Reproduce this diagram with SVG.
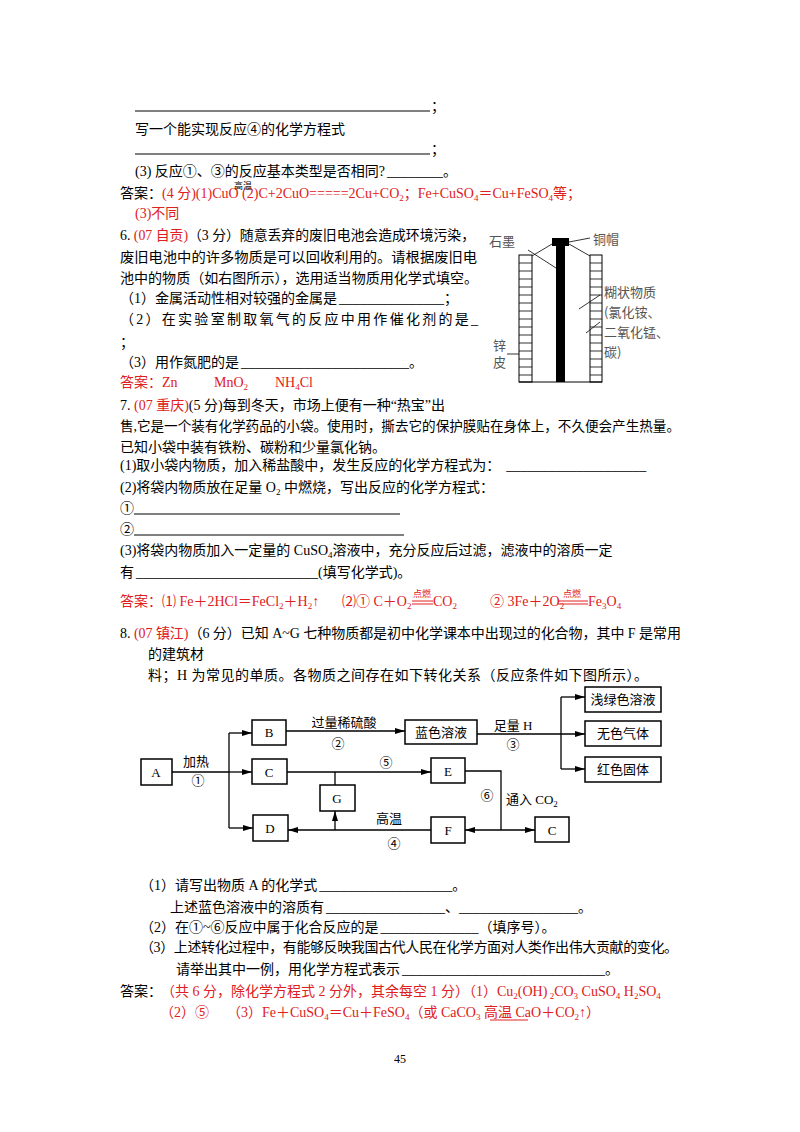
<svg xmlns="http://www.w3.org/2000/svg" width="800" height="1132" viewBox="0 0 800 1132">
<style>
text{font-family:"Liberation Serif","Noto Sans CJK SC",serif;font-size:14px;fill:#000}
.r{fill:#e02020}
.s{font-size:9px}
.g{font-family:"Noto Sans CJK SC",sans-serif;font-size:13px;fill:#555}
.d{font-size:13px}
.u{stroke:#000;stroke-width:1}
.ru{stroke:#e02020;stroke-width:1}
.box{fill:#fff;stroke:#000;stroke-width:1.5}
.ln{fill:none;stroke:#000;stroke-width:1.3}
</style>
<defs><marker id="ar" markerWidth="10" markerHeight="6" refX="10" refY="3" orient="auto" markerUnits="userSpaceOnUse"><path d="M0,0L10,3L0,6z" fill="#000"/></marker></defs>
<rect width="800" height="1132" fill="#fff"/>
<line class="u" x1="135" y1="111" x2="430" y2="111"/><text x="431" y="111">；</text>
<text x="135" y="134">写一个能实现反应④的化学方程式</text>
<line class="u" x1="135" y1="154" x2="430" y2="154"/><text x="431" y="154">；</text>
<text x="135" y="176">(3) 反应①、③的反应基本类型是否相同?<tspan dx="2">________</tspan>。</text>
<text x="120" y="198">答案：<tspan class="r">(4 分)(1)CuO  (2)C+2CuO=====2Cu+CO<tspan class="s" dy="3">2</tspan><tspan dy="-3">；Fe+CuSO</tspan><tspan class="s" dy="3">4</tspan><tspan dy="-3">＝Cu+FeSO</tspan><tspan class="s" dy="3">4</tspan><tspan dy="-3">等；</tspan></tspan></text>
<text x="234" y="189" class="s">高温</text>
<text x="135" y="218" class="r">(3)不同</text>
<text x="120" y="240" textLength="355" lengthAdjust="spacingAndGlyphs">6. <tspan class="r">(07 自贡)</tspan>（3 分）随意丢弃的废旧电池会造成环境污染，</text>
<text x="120" y="262" textLength="357" lengthAdjust="spacingAndGlyphs">废旧电池中的许多物质是可以回收利用的。请根据废旧电</text>
<text x="120" y="283" textLength="358" lengthAdjust="spacingAndGlyphs">池中的物质（如右图所示），选用适当物质用化学式填空。</text>
<text x="120" y="303">（1）金属活动性相对较强的金属是<tspan dx="2">_______________</tspan>；</text>
<text x="120" y="324" textLength="358" lengthAdjust="spacing">（2）在实验室制取氧气的反应中用作催化剂的是_</text>
<text x="120" y="347">；</text>
<text x="120" y="367">（3）用作氮肥的是<tspan dx="2">________________________</tspan>。</text>
<text x="120" y="387" class="r">答案：Zn<tspan x="214">MnO</tspan><tspan class="s" dy="3">2</tspan><tspan x="275" dy="-3">NH</tspan><tspan class="s" dy="3">4</tspan><tspan dy="-3">Cl</tspan></text>
<g id="battery">
<rect x="519" y="255" width="13" height="127" fill="#fff" stroke="#000"/>
<rect x="590" y="255" width="12" height="127" fill="#fff" stroke="#000"/>
<path d="M519 263h13M519 271h13M519 279h13M519 287h13M519 295h13M519 303h13M519 311h13M519 319h13M519 327h13M519 335h13M519 343h13M519 351h13M519 359h13M519 367h13M519 375h13M590 263h12M590 271h12M590 279h12M590 287h12M590 295h12M590 303h12M590 311h12M590 319h12M590 327h12M590 335h12M590 343h12M590 351h12M590 359h12M590 367h12M590 375h12" stroke="#000" stroke-width="0.8"/>
<line x1="519" y1="382" x2="602" y2="382" stroke="#000"/>
<rect x="556" y="245" width="9" height="137" fill="#000"/>
<rect x="552" y="238" width="17" height="8" fill="#000"/>
<path d="M532 256L552 244M590 256L569 244M528 250L556 268M569 242L590 238M579 309L600 295M586 333L600 322M507 354L519 354" stroke="#000" stroke-width="0.8" fill="none"/>
<text class="g" x="489" y="246">石墨</text>
<text class="g" x="593" y="244">铜帽</text>
<text class="g" x="604" y="297">糊状物质</text>
<text class="g" x="604" y="317">(氯化铵、</text>
<text class="g" x="604" y="337">二氧化锰、</text>
<text class="g" x="604" y="357">碳)</text>
<text class="g" x="493" y="350">锌</text>
<text class="g" x="493" y="367">皮</text>
</g>
<text x="120" y="410">7. <tspan class="r">(07 重庆)</tspan>(5 分)每到冬天，市场上便有一种“热宝”出</text>
<text x="120" y="431" textLength="560" lengthAdjust="spacingAndGlyphs">售,它是一个装有化学药品的小袋。使用时，撕去它的保护膜贴在身体上，不久便会产生热量。</text>
<text x="120" y="452">已知小袋中装有铁粉、碳粉和少量氯化钠。</text>
<text x="120" y="470">(1)取小袋内物质，加入稀盐酸中，发生反应的化学方程式为：<tspan dx="6">____________________</tspan></text>
<text x="120" y="492">(2)将袋内物质放在足量 O<tspan class="s" dy="3">2</tspan><tspan dy="-3"> 中燃烧，写出反应的化学方程式：</tspan></text>
<text x="120" y="513">①</text><line class="u" x1="134" y1="514" x2="400" y2="514"/>
<text x="120" y="534">②</text><line class="u" x1="134" y1="535" x2="404" y2="535"/>
<text x="120" y="555">(3)将袋内物质加入一定量的 CuSO<tspan class="s" dy="3">4</tspan><tspan dy="-3">溶液中，充分反应后过滤，滤液中的溶质一定</tspan></text>
<text x="120" y="577">有<tspan dx="2">__________________________</tspan>(填写化学式)。</text>
<text x="120" y="606" class="r">答案：⑴ Fe＋2HCl＝FeCl<tspan class="s" dy="3">2</tspan><tspan dy="-3">＋H</tspan><tspan class="s" dy="3">2</tspan><tspan dy="-3">↑</tspan><tspan x="342">⑵① C＋O</tspan><tspan class="s" dy="3">2</tspan><tspan x="433" dy="-3">CO</tspan><tspan class="s" dy="3">2</tspan><tspan x="490" dy="-3">② 3Fe＋2O</tspan><tspan class="s" dy="3">2</tspan><tspan x="588" dy="-3">Fe</tspan><tspan class="s" dy="3">3</tspan><tspan dy="-3">O</tspan><tspan class="s" dy="3">4</tspan></text>
<path d="M412 601h21M412 604h21M558 601h30M558 604h30" class="ru"/>
<text x="413" y="597" class="r s">点燃</text><text x="563" y="597" class="r s">点燃</text>
<text x="120" y="638" textLength="561" lengthAdjust="spacing">8. <tspan class="r">(07 镇江)</tspan>（6 分）已知 A~G 七种物质都是初中化学课本中出现过的化合物，其中 F 是常用</text>
<text x="148" y="659">的建筑材</text>
<text x="148" y="680" textLength="500" lengthAdjust="spacing">料；H 为常见的单质。各物质之间存在如下转化关系（反应条件如下图所示）。</text>
<g id="connectors">
<path class="ln" d="M172 772H229M229 733V828"/>
<path class="ln" d="M229 733H252" marker-end="url(#ar)"/>
<path class="ln" d="M229 772H252" marker-end="url(#ar)"/>
<path class="ln" d="M229 828H253" marker-end="url(#ar)"/>
<path class="ln" d="M286 731H405" marker-end="url(#ar)"/>
<path class="ln" d="M477 734H585" marker-end="url(#ar)"/>
<path class="ln" d="M561 697V769"/>
<path class="ln" d="M561 697H585" marker-end="url(#ar)"/>
<path class="ln" d="M561 769H585" marker-end="url(#ar)"/>
<path class="ln" d="M287 772H431" marker-end="url(#ar)"/>
<path class="ln" d="M335 772V785"/>
<path class="ln" d="M465 771H501V830"/>
<path class="ln" d="M501 830H465" marker-end="url(#ar)"/>
<path class="ln" d="M501 830H535" marker-end="url(#ar)"/>
<path class="ln" d="M431 830H288" marker-end="url(#ar)" stroke-width="2"/>
<path class="ln" d="M335 830V811" marker-end="url(#ar)"/>
</g>
<g id="A"><rect class="box" x="141" y="759" width="31" height="26"/><text class="d" x="156" y="777" text-anchor="middle">A</text></g>
<g id="B"><rect class="box" x="252" y="720" width="34" height="25"/><text class="d" x="269" y="737" text-anchor="middle">B</text></g>
<g id="blue"><rect class="box" x="405" y="720" width="72" height="24"/><text class="d" x="441" y="737" text-anchor="middle">蓝色溶液</text></g>
<g id="lg"><rect class="box" x="585" y="687" width="76" height="25"/><text class="d" x="623" y="704" text-anchor="middle">浅绿色溶液</text></g>
<g id="gas"><rect class="box" x="585" y="721" width="76" height="25"/><text class="d" x="623" y="738" text-anchor="middle">无色气体</text></g>
<g id="red"><rect class="box" x="585" y="757" width="76" height="25"/><text class="d" x="623" y="774" text-anchor="middle">红色固体</text></g>
<g id="C"><rect class="box" x="252" y="759" width="35" height="25"/><text class="d" x="269" y="777" text-anchor="middle">C</text></g>
<g id="E"><rect class="box" x="431" y="758" width="34" height="25"/><text class="d" x="448" y="776" text-anchor="middle">E</text></g>
<g id="G"><rect class="box" x="320" y="785" width="35" height="26"/><text class="d" x="337" y="803" text-anchor="middle">G</text></g>
<g id="D"><rect class="box" x="253" y="815" width="35" height="26"/><text class="d" x="270" y="833" text-anchor="middle">D</text></g>
<g id="F"><rect class="box" x="431" y="817" width="34" height="26"/><text class="d" x="448" y="835" text-anchor="middle">F</text></g>
<g id="C2"><rect class="box" x="535" y="817" width="34" height="25"/><text class="d" x="552" y="835" text-anchor="middle">C</text></g>
<g id="labels">
<text class="d" x="196" y="766" text-anchor="middle">加热</text><text class="d" x="198" y="785" text-anchor="middle">①</text>
<text class="d" x="344" y="727" text-anchor="middle">过量稀硫酸</text><text class="d" x="338" y="748" text-anchor="middle">②</text>
<text class="d" x="513" y="730" text-anchor="middle">足量  H</text><text class="d" x="513" y="749" text-anchor="middle">③</text>
<text class="d" x="386" y="767" text-anchor="middle">⑤</text>
<text class="d" x="487" y="800" text-anchor="middle">⑥</text>
<text class="d" x="506" y="804">通入 CO<tspan class="s" dy="3">2</tspan></text>
<text class="d" x="389" y="823" text-anchor="middle">高温</text><text class="d" x="394" y="848" text-anchor="middle">④</text>
</g>
<text x="140" y="890">（1）请写出物质 A 的化学式<tspan dx="2">___________________</tspan>。</text>
<text x="170" y="912">上述蓝色溶液中的溶质有<tspan dx="2">_________________</tspan>、<tspan>_________________</tspan>。</text>
<text x="140" y="932">（2）在①~⑥反应中属于化合反应的是<tspan dx="2">______________</tspan>（填序号）。</text>
<text x="140" y="952" textLength="538" lengthAdjust="spacing">（3）上述转化过程中，有能够反映我国古代人民在化学方面对人类作出伟大贡献的变化。</text>
<text x="176" y="974">请举出其中一例，用化学方程式表示<tspan dx="2">_____________________________</tspan>。</text>
<text x="120" y="996">答案：<tspan class="r" dx="6">（共 6 分，除化学方程式 2 分外，其余每空 1 分）（1）Cu</tspan><tspan class="r s" dy="3">2</tspan><tspan class="r" dy="-3">(OH)</tspan><tspan class="r s" dy="3"> 2</tspan><tspan class="r" dy="-3">CO</tspan><tspan class="r s" dy="3">3</tspan><tspan class="r" dy="-3">  CuSO</tspan><tspan class="r s" dy="3">4</tspan><tspan class="r" dy="-3">  H</tspan><tspan class="r s" dy="3">2</tspan><tspan class="r" dy="-3">SO</tspan><tspan class="r s" dy="3">4</tspan></text>
<text x="160" y="1017" class="r">（2）⑤<tspan dx="18">（3）Fe＋CuSO</tspan><tspan class="s" dy="3">4</tspan><tspan dy="-3">＝Cu＋FeSO</tspan><tspan class="s" dy="3">4</tspan><tspan dy="-3">（或 CaCO</tspan><tspan class="s" dy="3">3</tspan><tspan dy="-3"> 高温  CaO＋CO</tspan><tspan class="s" dy="3">2</tspan><tspan dy="-3">↑）</tspan></text>
<line class="ru" x1="490" y1="1020" x2="528" y2="1020"/>
<text x="400" y="1063" text-anchor="middle" style="font-size:12px">45</text>
</svg>
